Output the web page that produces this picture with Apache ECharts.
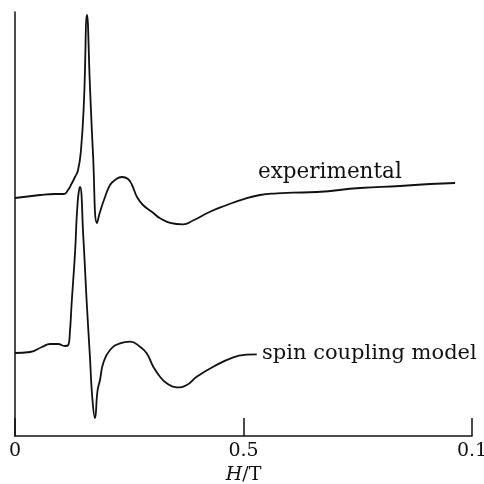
<!DOCTYPE html>
<html>
<head>
<meta charset="utf-8">
<script src="https://cdn.jsdelivr.net/npm/echarts@6/dist/echarts.min.js"></script>
<style>
  html, body { margin: 0; padding: 0; background: #fff; }
  #chart { width: 484px; height: 484px; }
</style>
</head>
<body>
<div id="chart"></div>
<script>
var chart = echarts.init(document.getElementById("chart"), null);

// H/T values and signal (arbitrary units)
var expH = [0, 0.055, 0.0875, 0.107, 0.116, 0.1235, 0.1313, 0.138, 0.1444, 0.151, 0.1575, 0.164, 0.1707, 0.1794,
  0.186, 0.197, 0.2079, 0.2188, 0.2341, 0.2473, 0.256, 0.267, 0.28, 0.30, 0.3173, 0.3392, 0.3676, 0.3895,
  0.4267, 0.4639, 0.4989, 0.5361, 0.5733, 0.6083, 0.6608, 0.755, 0.8425, 0.908, 0.963];
var expSignal = [238, 241, 242, 242, 246, 252, 259, 266, 286, 336, 421, 350, 282, 213,
  224, 239, 251, 256, 259, 257, 251, 239, 231, 224, 217.8, 213.2, 211.7, 215.5,
  224.3, 231, 236.7, 241, 242.7, 243.3, 244, 248, 250, 252, 253];

var modelH = [0, 0.033, 0.059, 0.077, 0.094, 0.109, 0.1166, 0.12, 0.124, 0.1313, 0.137, 0.1422,
  0.1495, 0.157, 0.164, 0.169, 0.175, 0.1805, 0.186, 0.1932, 0.2079, 0.2298, 0.2516, 0.2735,
  0.2882, 0.3026, 0.3173, 0.332, 0.3538, 0.3757, 0.3976, 0.4339, 0.4777, 0.507, 0.5289];
var modelSignal = [83, 84, 89, 92, 92, 90, 91, 103, 133, 183, 233, 249,
  199, 133, 79, 39, 18, 45, 56, 73, 86, 92.7, 94.3, 89.3,
  82.7, 69.3, 59.3, 52.7, 48.7, 51, 59.3, 69.3, 78.7, 81.3, 81.7];

var tickLabels = { 0: "0", 0.5: "0.5", 1: "0.1" };

function pairs(xs, ys) {
  return xs.map(function (x, i) { return [x, ys[i]]; });
}

var serif = "DejaVu Serif";

var option = {
  animation: false,
  backgroundColor: "#fff",
  grid: { left: 15, right: 12, top: 12, bottom: 48, containLabel: false, outerBoundsMode: "none" },
  xAxis: {
    type: "value",
    min: 0,
    max: 1,
    interval: 0.5,
    name: "{i|H}/T",
    nameLocation: "middle",
    nameGap: 17,
    nameTextStyle: {
      fontFamily: serif,
      fontSize: 19,
      color: "#111",
      rich: { i: { fontFamily: serif, fontStyle: "italic", fontSize: 19, color: "#111" } }
    },
    axisLine: { show: true, lineStyle: { color: "#111", width: 1.5 } },
    axisTick: { show: true, inside: true, length: 18, lineStyle: { color: "#111", width: 1.5 } },
    axisLabel: {
      margin: 6,
      fontFamily: serif,
      fontSize: 19,
      color: "#111",
      formatter: function (v) { return tickLabels[v]; }
    },
    splitLine: { show: false }
  },
  yAxis: {
    type: "value",
    min: 0,
    max: 424,
    axisLine: { show: true, lineStyle: { color: "#111", width: 1.5 } },
    axisTick: { show: false },
    axisLabel: { show: false },
    splitLine: { show: false }
  },
  graphic: [
    { type: "text", left: 258, top: 161, style: { text: "experimental", font: "21.5px " + serif, fill: "#111" } },
    { type: "text", left: 262, top: 343, style: { text: "spin coupling model", font: "21px " + serif, fill: "#111" } }
  ],
  series: [
    {
      name: "experimental",
      type: "line",
      data: pairs(expH, expSignal),
      smooth: 0.5,
      symbol: "none",
      lineStyle: { color: "#111", width: 1.8 }
    },
    {
      name: "spin coupling model",
      type: "line",
      data: pairs(modelH, modelSignal),
      smooth: 0.5,
      symbol: "none",
      lineStyle: { color: "#111", width: 1.8 }
    }
  ]
};
chart.setOption(option);
</script>
</body>
</html>
